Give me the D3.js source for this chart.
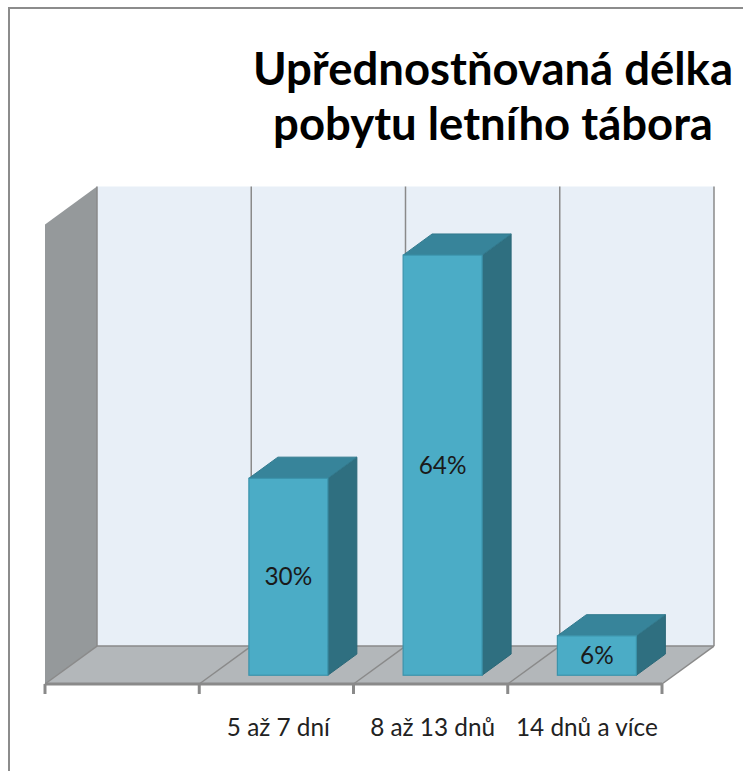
<!DOCTYPE html>
<html>
<head>
<meta charset="utf-8">
<script src="https://cdn.jsdelivr.net/npm/d3@7"></script>
<style>
  html, body { margin: 0; padding: 0; background: #fff; }
  svg { display: block; }
</style>
</head>
<body>
<div id="chart"></div>
<script>
// data
const categories = ["", "5 až 7 dní", "8 až 13 dnů", "14 dnů a více"];
const values = [null, 0.30, 0.64, 0.06];
const titleLines = ["Upřednostňovaná délka", "pobytu letního tábora"];

const width = 743, height = 771;
const depth = 52;        // floor depth in px (x direction)
const slope = 0.73;      // y shift per px of depth
const barOffset = 12;    // bar front plane behind floor front
const barDepth = 29;
const font = "Lato, 'Open Sans', sans-serif";

const svg = d3.select("#chart").append("svg")
    .attr("width", width)
    .attr("height", height);

// outer chart frame (only top and left visible)
svg.append("path")
    .attr("d", `M9,${height} L9,8 L${width},8`)
    .attr("fill", "none")
    .attr("stroke", "#8c8c8c")
    .attr("stroke-width", 2);

const x = d3.scaleBand().domain(categories).range([45, 662]);
const xBar = d3.scaleBand().domain(categories).range([45, 662])
    .paddingInner(0.488).paddingOuter(0.244);
const y = d3.scaleLinear().domain([0, 0.7]).range([684, 224.5]);

const y0 = y(0), yTop = y(0.7);
const xl = x.range()[0], xr = x.range()[1];
const dd = depth * slope;

// back wall
svg.append("polygon")
    .attr("points", [[xl + depth, yTop - dd], [xr + depth, yTop - dd],
                     [xr + depth, y0 - dd], [xl + depth, y0 - dd]].join(" "))
    .attr("fill", "#e8eff7");

// side wall
svg.append("polygon")
    .attr("points", [[xl, yTop], [xl + depth, yTop - dd],
                     [xl + depth, y0 - dd], [xl, y0]].join(" "))
    .attr("fill", "#95999b");

// floor
svg.append("polygon")
    .attr("points", [[xl, y0], [xr, y0], [xr + depth, y0 - dd], [xl + depth, y0 - dd]].join(" "))
    .attr("fill", "#b3b7ba");

// gridlines at category boundaries (floor diagonals + back wall verticals)
const bounds = categories.map(c => x(c)).concat([xr]);
const grid = svg.append("g").attr("stroke", "#8a8a8a").attr("stroke-width", 1.5).attr("fill", "none");
bounds.forEach(bx => {
    grid.append("line")
        .attr("x1", bx).attr("y1", y0)
        .attr("x2", bx + depth).attr("y2", y0 - dd);
    grid.append("line")
        .attr("x1", bx + depth).attr("y1", y0 - dd)
        .attr("x2", bx + depth).attr("y2", yTop - dd);
});
grid.append("line")
    .attr("x1", xl + depth).attr("y1", y0 - dd)
    .attr("x2", xr + depth).attr("y2", y0 - dd);

// category axis
const gX = svg.append("g")
    .attr("transform", `translate(0,${y0})`);
gX.append("line")
    .attr("x1", xl).attr("x2", xr)
    .attr("stroke", "#8a8a8a").attr("stroke-width", 3);
gX.selectAll(".tick")
    .data(bounds)
    .join("line")
    .attr("x1", d => d).attr("x2", d => d)
    .attr("y1", 0).attr("y2", 10)
    .attr("stroke", "#8a8a8a").attr("stroke-width", 3);

const catLabels = gX.selectAll(".cat")
    .data(categories.filter(c => c !== ""))
    .join("text")
    .attr("class", "cat")
    .attr("x", d => x(d) + x.bandwidth() / 2 + 2)
    .attr("y", 52)
    .attr("text-anchor", "middle")
    .attr("font-family", font)
    .attr("font-size", 20)
    .attr("fill", "#222")
    .text(d => d);

// label size fitted to the reference ("14 dnů a více" ~142px wide)
const wl = catLabels.filter(d => d === "14 dnů a více").node().getComputedTextLength();
const labelSize = 20 * 142 / wl;
catLabels.attr("font-size", labelSize);

// bars
const bars = categories.map((c, i) => ({ c, v: values[i] })).filter(d => d.v != null);
const bw = xBar.bandwidth();
const dyBar = barOffset * slope;
const ks = barDepth * slope;

const g = svg.append("g");
bars.forEach(d => {
    const x0 = xBar(d.c) + barOffset, x1 = x0 + bw;
    const yt = y(d.v) - dyBar, yb = y(0) - dyBar;
    // side
    g.append("polygon")
        .attr("points", [[x1, yt], [x1 + barDepth, yt - ks], [x1 + barDepth, yb - ks], [x1, yb]].join(" "))
        .attr("fill", "#2f6f80").attr("stroke", "#2b6878").attr("stroke-width", 1);
    // top
    g.append("polygon")
        .attr("points", [[x0, yt], [x1, yt], [x1 + barDepth, yt - ks], [x0 + barDepth, yt - ks]].join(" "))
        .attr("fill", "#37849a").attr("stroke", "#327a8e").attr("stroke-width", 1);
    // front
    g.append("rect")
        .attr("x", x0).attr("y", yt)
        .attr("width", bw).attr("height", yb - yt)
        .attr("fill", "#4bacc6").attr("stroke", "#3b93ab").attr("stroke-width", 1.2);
    // value label
    g.append("text")
        .attr("x", x0 + bw / 2)
        .attr("y", (yt + yb) / 2)
        .attr("dy", "0.35em")
        .attr("text-anchor", "middle")
        .attr("font-family", font)
        .attr("font-size", labelSize)
        .attr("fill", "#1a1a1a")
        .text(d3.format(".0%")(d.v));
});

// title
const title = svg.append("g").attr("font-family", font)
    .attr("font-weight", "bold").attr("fill", "#000");
titleLines.forEach((t, i) => {
    title.append("text")
        .attr("x", 493)
        .attr("y", 85 + i * 55)
        .attr("text-anchor", "middle")
        .attr("font-size", 36)
        .text(t);
});
// fit title width to the original (~480px for the first line)
const w1 = title.select("text").node().getComputedTextLength();
title.selectAll("text").attr("font-size", 36 * 480 / w1);
</script>
</body>
</html>
